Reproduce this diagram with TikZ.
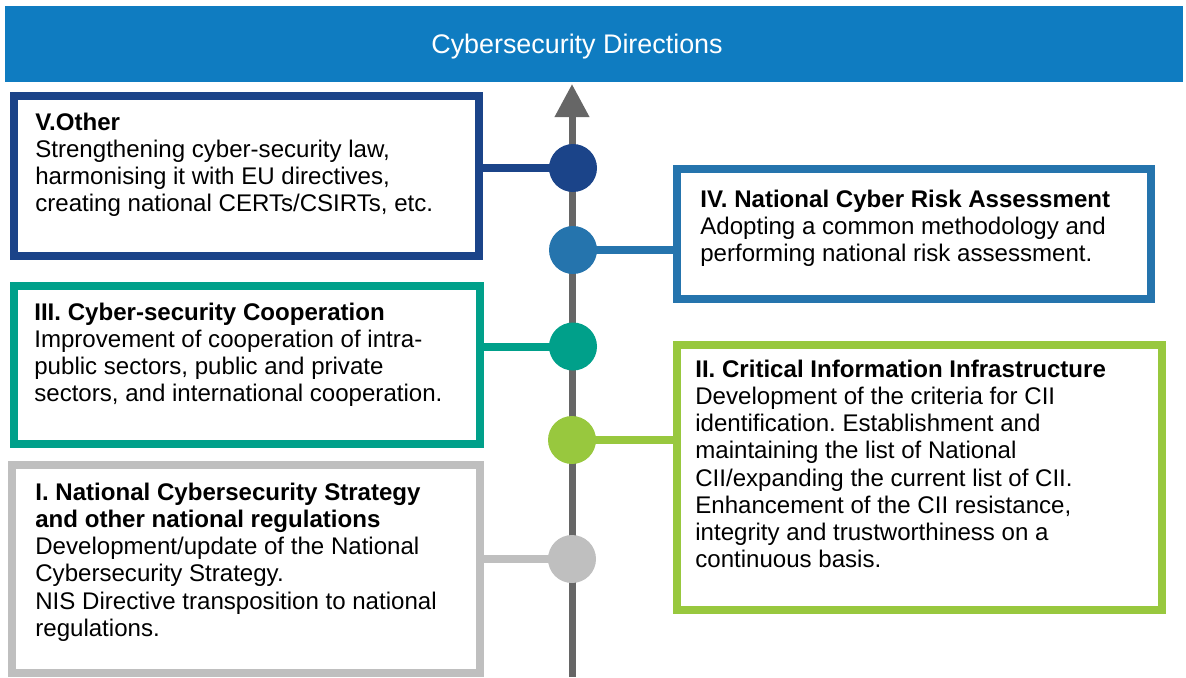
\documentclass[tikz,border=0pt]{standalone}
\usepackage{fontspec}
\setmainfont{Liberation Sans}
\usetikzlibrary{arrows.meta}
\frenchspacing

\definecolor{bannerblue}{RGB}{15,124,193}
\definecolor{otherblue}{RGB}{27,68,137}
\definecolor{riskblue}{RGB}{37,116,173}
\definecolor{coopgreen}{RGB}{0,160,138}
\definecolor{ciigreen}{RGB}{152,200,62}
\definecolor{stratgray}{RGB}{191,191,191}
\definecolor{axisgray}{RGB}{102,102,102}

\begin{document}
\begin{tikzpicture}[x=0.02cm, y=-0.02cm,
    panel/.style={draw=#1, line width=0.16cm, inner sep=0, outer sep=0},
    blurb/.style={anchor=north west, inner sep=0, align=left, font=\fontsize{13.7}{15.4}\selectfont},
    dot/.style={circle, fill=#1, minimum size=0.96cm, inner sep=0},
    link/.style={draw=#1, line width=0.16cm}]
    \useasboundingbox (0,0) rectangle (1186,677);

    % Title banner
    \node[fill=bannerblue, minimum width=23.56cm, minimum height=1.52cm, inner sep=0] (banner) at (594,44) {};
    \node[anchor=base, text=white, font=\fontsize{15.3}{18}\selectfont] (title) at (577,53) {Cybersecurity Directions};

    % Time axis
    \coordinate (axbot) at (572,677);
    \coordinate (axtop) at (572,84);
    \draw[axisgray, line width=0.14cm, -{Triangle[width=0.66cm, length=0.66cm]}] (axbot) -- (axtop);

    % Frames
    % -- left side
    \node[panel=otherblue, minimum width=9.30cm, minimum height=3.20cm] (boxV) at (246.5,176) {};
    \node[panel=coopgreen, minimum width=9.32cm, minimum height=3.16cm] (boxIII) at (247,365) {};
    \node[panel=stratgray, minimum width=9.36cm, minimum height=4.16cm] (boxI) at (246,569) {};
    % -- right side
    \node[panel=riskblue, minimum width=9.48cm, minimum height=2.60cm] (boxIV) at (914,234) {};
    \node[panel=ciigreen, minimum width=9.70cm, minimum height=5.30cm] (boxII) at (919.5,477.5) {};

    % Dots on the axis
    \coordinate (pV) at (573,168);
    \coordinate (pIV) at (573,250);
    \coordinate (pIII) at (573,346.5);
    \coordinate (pII) at (572,440);
    \coordinate (pI) at (572,559);

    % Links
    \draw[link=otherblue] (boxV.east |- pV) -- (pV);
    \draw[link=riskblue] (pIV) -- (pIV -| boxIV.west);
    \draw[link=coopgreen] (boxIII.east |- pIII) -- (pIII);
    \draw[link=ciigreen] (pII) -- (pII -| boxII.west);
    \draw[link=stratgray] (boxI.east |- pI) -- (pI);

    \node[dot=otherblue] (dotV) at (pV) {};
    \node[dot=riskblue] (dotIV) at (pIV) {};
    \node[dot=coopgreen] (dotIII) at (pIII) {};
    \node[dot=ciigreen] (dotII) at (pII) {};
    \node[dot=stratgray] (dotI) at (pI) {};

    % Texts
    \node[blurb] (txtV) at (35,113) {\textbf{V.Other}\\
        Strengthening cyber-security law,\\
        harmonising it with EU directives,\\
        creating national CERTs/CSIRTs, etc.};
    \node[blurb] (txtIV) at (700,190) {\textbf{IV. National Cyber Risk Assessment}\\
        Adopting a common methodology and\\
        performing national risk assessment.};
    \node[blurb] (txtIII) at (34,303) {\textbf{III. Cyber-security Cooperation}\\
        Improvement of cooperation of intra-\\
        public sectors, public and private\\
        sectors, and international cooperation.};
    \node[blurb] (txtII) at (695,360) {\textbf{II. Critical Information Infrastructure}\\
        Development of the criteria for CII\\
        identification. Establishment and\\
        maintaining the list of National\\
        CII/expanding the current list of CII.\\
        Enhancement of the CII resistance,\\
        integrity and trustworthiness on a\\
        continuous basis.};
    \node[blurb] (txtI) at (35,483) {\textbf{I. National Cybersecurity Strategy}\\
        \textbf{and other national regulations}\\
        Development/update of the National\\
        Cybersecurity Strategy.\\
        NIS Directive transposition to national\\
        regulations.};
\end{tikzpicture}
\end{document}
